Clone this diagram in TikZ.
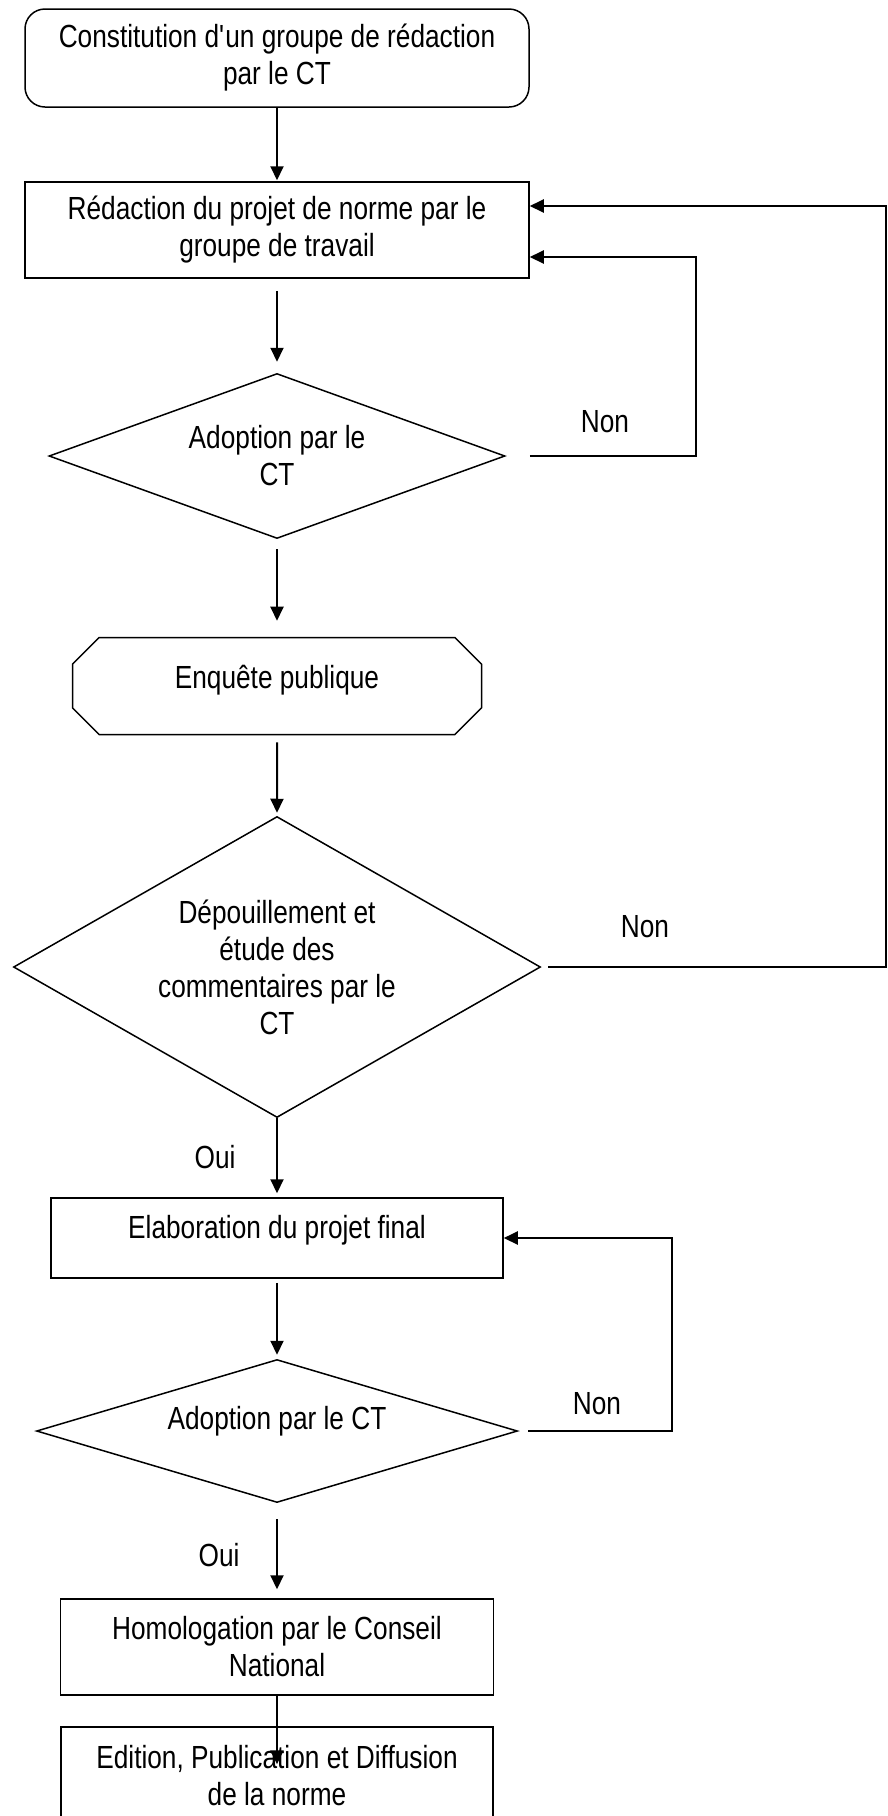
\documentclass[tikz,border=0pt]{standalone}
\usepackage{fontspec}
\setmainfont{Liberation Sans}[FakeStretch=0.82]
\usetikzlibrary{arrows.meta,shapes.geometric,shapes.misc}
\begin{document}
\begin{tikzpicture}[x=1pt, y=-1pt,
    font=\fontsize{32}{37}\selectfont,
    etape/.style={draw, line width=1.5pt, align=center, inner sep=2pt},
    choix/.style={draw, line width=1.5pt, diamond, align=center, inner sep=2pt},
    fleche/.style={line width=2pt, -{Triangle[length=14pt,width=13pt]}}]
    \path[fill=white, use as bounding box] (0,0) rectangle (888,1816);
    % etapes du processus
    \node[etape, rounded corners=20pt, minimum width=504pt, minimum height=98pt] (constitution) at (277,58) {Constitution d\textquotesingle un groupe de rédaction\\par le CT};
    \node[etape, minimum width=504pt, minimum height=96pt] (redaction) at (277,230) {Rédaction du projet de norme par le\\groupe de travail};
    \node[choix, aspect=2.76, minimum width=456pt, minimum height=165pt] (adoption1) at (277,456) {Adoption par le\\CT};
    \node[etape, chamfered rectangle, chamfered rectangle xsep=29pt, minimum width=409pt, minimum height=97pt, text depth=19pt] (enquete) at (277,686) {Enquête publique};
    \node[choix, aspect=1.75, minimum width=527pt, minimum height=301pt] (depouillement) at (277,967) {Dépouillement et\\étude des\\commentaires par le\\CT};
    \node[etape, minimum width=452pt, minimum height=80pt, text depth=23pt] (elaboration) at (277,1238) {Elaboration du projet final};
    \node[choix, aspect=3.36, minimum width=481pt, minimum height=143pt, text depth=27pt] (adoption2) at (277,1431) {Adoption par le CT};
    \node[etape, minimum width=433pt, minimum height=96pt] (homologation) at (277,1647) {Homologation par le Conseil\\National};
    \node[etape, minimum width=432pt, minimum height=98pt] (edition) at (277,1776) {Edition, Publication et Diffusion\\de la norme};
    % reponses
    \node (non1) at (605,422) {Non};
    \node (non2) at (645,927) {Non};
    \node (non3) at (597,1404) {Non};
    \node (oui1) at (215,1157) {Oui};
    \node (oui2) at (219,1555) {Oui};
    % fleches
    \draw[fleche, shorten >=1pt] (constitution) -- (redaction);
    \draw[fleche, shorten <=12pt, shorten >=11pt] (redaction) -- (adoption1);
    \draw[fleche, shorten <=10pt, shorten >=16pt] (adoption1) -- (enquete);
    \draw[fleche, shorten <=7pt, shorten >=3pt] (enquete) -- (depouillement);
    \draw[fleche, shorten >=4pt] (depouillement) -- (elaboration);
    \draw[fleche, shorten <=4pt, shorten >=4pt] (elaboration) -- (adoption2);
    \draw[fleche, shorten <=16pt, shorten >=9pt] (adoption2) -- (homologation);
    \draw[fleche, shorten >=-38pt] (homologation) -- (edition);
    % boucles de retour
    \draw[fleche, shorten <=24pt] (adoption1.east) -| (696,257) -- ([yshift=-27pt]redaction.east);
    \draw[fleche, shorten <=7pt] (depouillement.east) -| (886,206) -- ([yshift=24pt]redaction.east);
    \draw[fleche, shorten <=10pt] (adoption2.east) -| (672,1238) -- (elaboration.east);
\end{tikzpicture}
\end{document}
